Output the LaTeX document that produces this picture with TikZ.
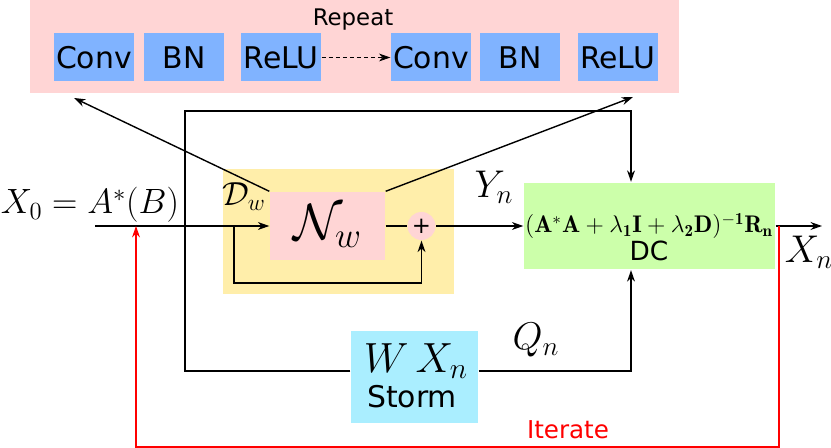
\documentclass[tikz,border=0pt]{standalone}
\usepackage{fix-cm}
\usepackage{fontspec}
\setsansfont{DejaVu Sans}
\usepackage{xcolor}
\usepackage{amsmath,amssymb}
\usepackage{tikz}
\usetikzlibrary{positioning, calc, arrows.meta}

\definecolor{repeatpink}{HTML}{FFD5D5}
\definecolor{layerblue}{HTML}{80B3FF}
\definecolor{denoiseyellow}{HTML}{FFEEAA}
\definecolor{dcgreen}{HTML}{CCFFAA}
\definecolor{stormcyan}{HTML}{AAEEFF}

\begin{document}
\begin{tikzpicture}[
  x=0.02cm, y=-0.02cm,
  font=\sffamily,
  >={Stealth[length=6.5pt,width=4.5pt]},
  thick,
  panel/.style={rectangle, inner sep=0pt, fill=#1},
  layer/.style={rectangle, fill=layerblue, inner sep=0pt,
                minimum width=1.6cm, minimum height=0.96cm,
                font=\sffamily\fontsize{17}{20}\selectfont},
  mathlabel/.style={font=\fontsize{#1}{#1}\selectfont, inner sep=1pt},
  textlabel/.style={font=\sffamily\fontsize{#1}{#1}\selectfont, inner sep=1pt},
  iterline/.style={red, semithick}
]
\useasboundingbox (0,0) rectangle (831,448);

% --- Repeat panel with the layer blocks ---
\node[panel=repeatpink, minimum width=12.98cm, minimum height=1.86cm] (repeatbox) at (354.5,46.5) {};
\node[textlabel=13] (repeatlbl) at (353,20) {Repeat};
\node[layer] (conv1) at (94,57.5) {Conv};
\node[layer] (bn1) at (184,57.5) {BN};
\node[layer] (relu1) at (281,57.5) {ReLU};
\node[layer] (conv2) at (431,57.5) {Conv};
\node[layer] (bn2) at (520,57.5) {BN};
\node[layer] (relu2) at (617.5,57.5) {ReLU};
\draw[->, thin, dash pattern=on 2.3pt off 1.7pt] (relu1.east) -- (conv2.west);

% --- Denoiser D_w ---
\node[panel=denoiseyellow, minimum width=4.64cm, minimum height=2.52cm] (denoiser) at (338.5,231.5) {};
\node[panel=repeatpink, minimum width=2.3cm, minimum height=1.36cm,
      font=\fontsize{29}{29}\selectfont] (net) at (327.5,226) {$\mathcal{N}_w$};
\node[circle, fill=repeatpink, minimum size=0.56cm, inner sep=0pt,
      font=\sffamily\fontsize{13}{13}\selectfont] (plus) at (421.5,226) {+};
\node[mathlabel=19] (dwlbl) at (244,197) {$\mathcal{D}_w$};
\node[mathlabel=20] (x0lbl) at (90,205) {$X_0=A^*(B)$};

% --- Data consistency block ---
\node[panel=dcgreen, minimum width=5.02cm, minimum height=1.74cm] (dc) at (649.5,226) {};
\node[mathlabel=13.7, inner sep=0pt] (dcformula) at (649,226)
  {$(\mathbf{A}^*\mathbf{A}+\lambda_{\mathbf{1}}\mathbf{I}+\lambda_{\mathbf{2}}\mathbf{D})^{\mathbf{-1}}\mathbf{R}_{\mathbf{n}}$};
\node[textlabel=15] (dclbl) at (649,251) {DC};
\node[mathlabel=22] (ylbl) at (494,187) {$Y_n$};
\node[mathlabel=22] (xnlbl) at (809,252) {$X_n$};

% --- Storm block ---
\node[panel=stormcyan, minimum width=2.54cm, minimum height=1.84cm] (storm) at (414.5,377) {};
\node[mathlabel=24] (wxlbl) at (416,361) {$W\,X_n$};
\node[textlabel=17] (stormlbl) at (412,397) {Storm};
\node[mathlabel=22] (qlbl) at (536,340) {$Q_n$};

% --- Main path ---
\coordinate (inlet) at (95,226);
\coordinate (skipfrom) at (234,226);
\coordinate (outlet) at (822,226);
\draw[->] (inlet) -- (net.west);
\draw[->] (skipfrom) -- ++(0,57) -| (plus.south);
\draw (net.east) -- (plus.west);
\draw[->] (plus.east) -- (dc.west);
\draw[->] (dc.east) -- (outlet);

% --- Network expanded into layers ---
\coordinate (convtip) at (74,98);
\coordinate (relutip) at (633,97);
\draw[->] (net.north west) -- (convtip);
\draw[->] (net.north east) -- (relutip);

% --- Loop through Storm into DC ---
\coordinate (looptop) at (185,111);
\draw[->] ([yshift=0.12cm]storm.west) -| (looptop) -| ([xshift=-0.37cm]dc.north);
\draw[->] ([yshift=0.12cm]storm.east) -| ([xshift=-0.37cm]dc.south);

% --- Iterate loop ---
\coordinate (iterfork) at (779,226);
\coordinate (iterjoin) at (136,226);
\draw[iterline, ->] (iterfork) -- ++(0,221) -| (iterjoin);
\node[textlabel=14, red] (iterlbl) at (568,430) {Iterate};

\end{tikzpicture}
\end{document}
